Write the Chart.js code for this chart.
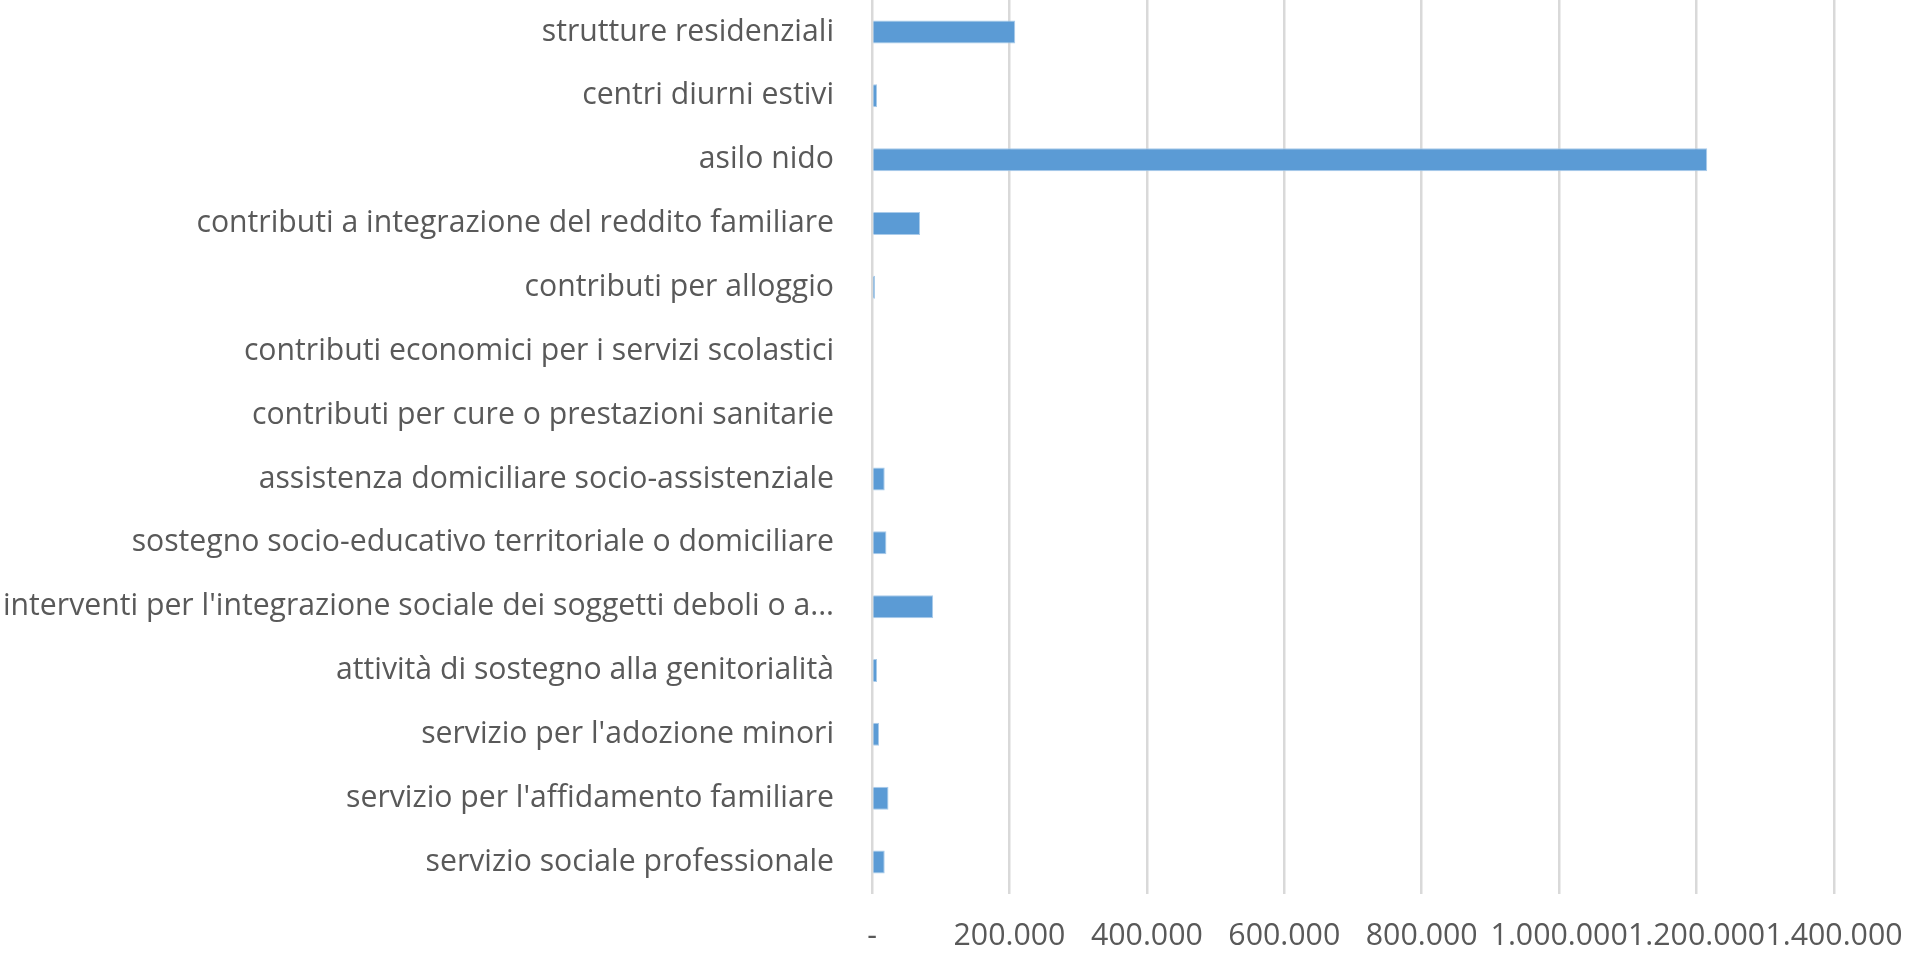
<!DOCTYPE html>
<html>
<head>
<meta charset="utf-8">
<script src="https://cdn.jsdelivr.net/npm/chart.js@4.4.4/dist/chart.umd.min.js"></script>
<style>
  html, body { margin: 0; padding: 0; background: #fff; }
  #wrap { width: 1910px; height: 953px; position: relative; }
</style>
</head>
<body>
<div id="wrap"><canvas id="c"></canvas></div>
<script>
// categories, top to bottom as drawn
const categories = [
  'strutture residenziali',
  'centri diurni estivi',
  'asilo nido',
  'contributi a integrazione del reddito familiare',
  'contributi per alloggio',
  'contributi economici per i servizi scolastici',
  'contributi per cure o prestazioni sanitarie',
  'assistenza domiciliare socio-assistenziale',
  'sostegno socio-educativo territoriale o domiciliare',
  "interventi per l'integrazione sociale dei soggetti deboli o a...",
  'attività di sostegno alla genitorialità',
  "servizio per l'adozione minori",
  "servizio per l'affidamento familiare",
  'servizio sociale professionale'
];

const spesa = [
  208500, 7300, 1215500, 70000, 4400, 0, 0,
  18500, 21000, 89000, 7300, 10200, 24000, 18500
];

const xTicks = [0, 200000, 400000, 600000, 800000, 1000000, 1200000, 1400000];

function fmtIt(v) {
  if (v === 0) return '-';
  return String(v).replace(/\B(?=(\d{3})+(?!\d))/g, '.');
}

// pick a Calibri-like narrow face and size it to the reference text width
const family = "'Liberation Sans Narrow', 'Open Sans', sans-serif";
function fitSize(text, target) {
  const ctx = document.createElement('canvas').getContext('2d');
  ctx.font = '100px ' + family;
  return Math.round(100 * target / ctx.measureText(text).width * 10) / 10;
}
const catSize = fitSize('servizio sociale professionale', 409);
const tickSize = fitSize('200.000', 112);

new Chart(document.getElementById('c'), {
  type: 'bar',
  data: {
    labels: categories,
    datasets: [{
      data: spesa,
      backgroundColor: '#5b9bd5',
      borderColor: '#a9cbea',
      borderWidth: 1,
      categoryPercentage: 1,
      barPercentage: 0.36
    }]
  },
  options: {
    indexAxis: 'y',
    responsive: true,
    maintainAspectRatio: false,
    animation: false,
    layout: { padding: { top: 0, right: 76, bottom: 0, left: 0 } },
    plugins: { legend: { display: false }, tooltip: { enabled: false } },
    scales: {
      x: {
        min: 0, max: 1400000,
        afterBuildTicks: s => { s.ticks = xTicks.map(v => ({ value: v })); },
        afterFit: s => { s.height = 59; s.paddingLeft = 0; s.paddingRight = 0; },
        border: { display: false },
        grid: { color: '#d9d9d9', lineWidth: 2.5, drawTicks: false },
        ticks: {
          autoSkip: false, maxRotation: 0, padding: 24,
          color: '#595959',
          font: { family: family, size: tickSize },
          callback: v => fmtIt(v)
        }
      },
      y: {
        afterFit: s => { s.width = 872; s.paddingTop = 0; s.paddingBottom = 0; },
        border: { display: false },
        grid: { display: false },
        ticks: {
          autoSkip: false, padding: 30,
          color: '#595959',
          font: { family: family, size: catSize }
        }
      }
    }
  }
});
</script>
</body>
</html>
